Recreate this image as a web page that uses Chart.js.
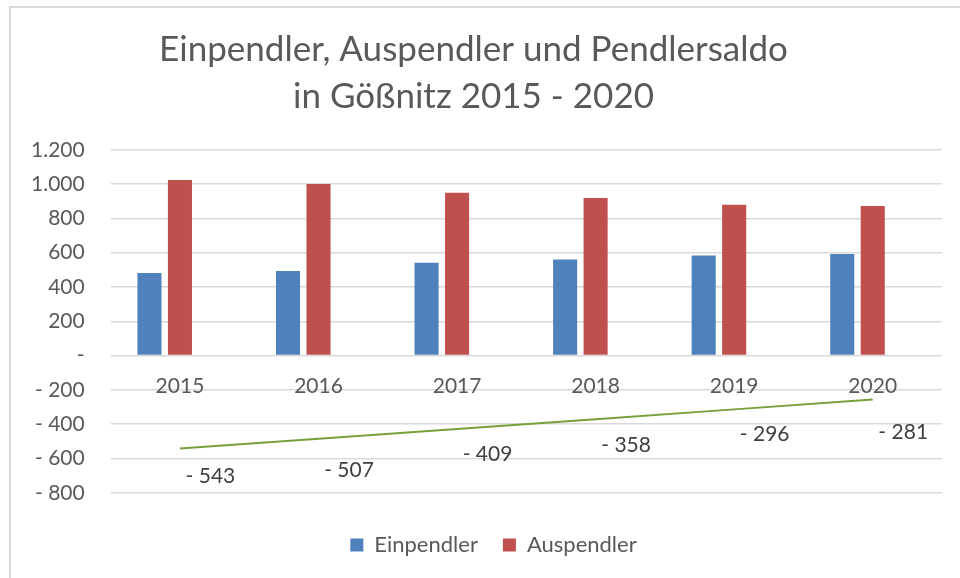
<!DOCTYPE html>
<html>
<head>
<meta charset="utf-8">
<script src="https://cdn.jsdelivr.net/npm/chart.js@4"></script>
<style>
  body { margin: 0; background: #fff; }
  #wrap { position: relative; width: 960px; height: 578px; }
  #frame { position: absolute; left: 9px; top: 6px; width: 960px; height: 580px;
           border-left: 2px solid #d9d9d9; border-top: 2px solid #d9d9d9; }
  canvas { position: absolute; left: 0; top: 0; }
</style>
</head>
<body>
<div id="wrap">
  <div id="frame"></div>
  <canvas id="myChart" width="960" height="578"></canvas>
</div>
<script>
var years = ["2015", "2016", "2017", "2018", "2019", "2020"];
var einpendler = [481, 494, 541, 561, 584, 592];
var auspendler = [1024, 1001, 950, 919, 880, 873];
var saldo = [-543, -507, -409, -358, -296, -281];

// linear trend of the saldo, as in the original chart
var n = saldo.length, mx = (n - 1) / 2, my = 0;
saldo.forEach(function (v) { my += v / n; });
var sxy = 0, sxx = 0;
saldo.forEach(function (v, i) { sxy += (i - mx) * (v - my); sxx += (i - mx) * (i - mx); });
var slope = sxy / sxx;
var trend = years.map(function (y, i) { return my + slope * (i - mx); });

function fmt(v) {
  if (v === 0) return "-";
  var s = Math.abs(v).toLocaleString("de-DE");
  return v < 0 ? "- " + s : s;
}

var font = "Lato, 'Open Sans', sans-serif";
var grey = "#595959";

// labels for the saldo bars (outside end)
var saldoLabels = {
  id: "saldoLabels",
  afterDatasetsDraw: function (chart) {
    var ctx = chart.ctx;
    var meta = chart.getDatasetMeta(2);
    ctx.save();
    ctx.font = "21px " + font;
    ctx.fillStyle = "#404040";
    ctx.textAlign = "center";
    ctx.textBaseline = "middle";
    meta.data.forEach(function (bar, i) {
      ctx.fillText(fmt(saldo[i]), bar.x, bar.y + 28);
    });
    ctx.restore();
  }
};

// legend sits a bit right of centre in the original
var legendShift = {
  id: "legendShift",
  afterLayout: function (chart) {
    chart.legend.left += 20;
    chart.legend.right += 20;
  }
};

new Chart("myChart", {
  type: "bar",
  data: {
    labels: years,
    datasets: [{
      label: "Einpendler",
      backgroundColor: "#4f81bd",
      data: einpendler,
      order: 2
    }, {
      label: "Auspendler",
      backgroundColor: "#c0504d",
      data: auspendler,
      order: 2
    }, {
      label: "Pendlersaldo",
      backgroundColor: "rgba(0,0,0,0)",
      data: saldo,
      order: 2
    }, {
      type: "line",
      label: "Trend",
      borderColor: "#77a03a",
      borderWidth: 2,
      pointRadius: 0,
      data: trend,
      order: 1
    }]
  },
  options: {
    responsive: false,
    animation: false,
    categoryPercentage: 0.66,
    barPercentage: 0.79,
    layout: { padding: { left: 5, right: 18, top: 8, bottom: 12 } },
    plugins: {
      title: {
        display: true,
        text: ["Einpendler, Auspendler und Pendlersaldo", "in Gößnitz 2015 - 2020"],
        color: grey,
        font: { family: font, size: 35, weight: "normal", lineHeight: 1.34 },
        padding: { top: 18, bottom: 30 }
      },
      legend: {
        position: "bottom",
        title: { display: true, text: " ", font: { size: 1 }, padding: { top: 15, bottom: 0 } },
        labels: {
          color: grey,
          font: { family: font, size: 22 },
          boxWidth: 13,
          boxHeight: 13,
          padding: 25,
          filter: function (item) { return item.datasetIndex < 2; }
        }
      },
      tooltip: { enabled: false }
    },
    scales: {
      x: {
        position: { y: 0 },
        grid: { display: false },
        border: { display: false },
        ticks: { color: grey, font: { family: font, size: 21 }, padding: 10 }
      },
      y: {
        min: -800,
        max: 1200,
        grid: { color: "#d9d9d9", lineWidth: 1.5, drawTicks: false },
        border: { display: false },
        ticks: {
          stepSize: 200,
          color: grey,
          font: { family: font, size: 21 },
          padding: 26,
          callback: function (v) { return fmt(v); }
        }
      }
    }
  },
  plugins: [saldoLabels, legendShift]
});
</script>
</body>
</html>
